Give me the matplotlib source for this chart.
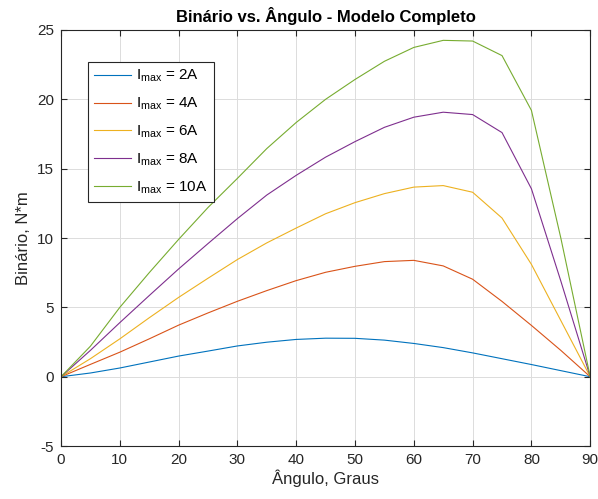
import numpy as np
import matplotlib.pyplot as plt

plt.rcParams['font.family'] = ['Liberation Sans', 'DejaVu Sans']
plt.rcParams['mathtext.default'] = 'regular'
plt.rcParams['mathtext.fontset'] = 'custom'
plt.rcParams['mathtext.rm'] = 'Liberation Sans'
plt.rcParams['axes.unicode_minus'] = False

# angulo em graus
angulo = np.arange(0, 91, 5)

# binario para cada corrente maxima
t_2A = [0, 0.27, 0.63, 1.06, 1.49, 1.85, 2.22, 2.49, 2.69, 2.78, 2.77, 2.64,
        2.40, 2.10, 1.72, 1.30, 0.88, 0.44, 0]
t_4A = [0, 0.89, 1.77, 2.73, 3.72, 4.60, 5.44, 6.21, 6.93, 7.53, 7.96, 8.30,
        8.39, 7.99, 7.03, 5.43, 3.70, 1.90, 0]
t_6A = [0, 1.30, 2.73, 4.25, 5.72, 7.10, 8.45, 9.65, 10.72, 11.75, 12.55, 13.20,
        13.67, 13.78, 13.30, 11.44, 8.10, 4.05, 0]
t_8A = [0, 1.90, 3.90, 5.85, 7.77, 9.60, 11.40, 13.10, 14.52, 15.83, 16.95, 17.98,
        18.71, 19.07, 18.90, 17.60, 13.55, 6.90, 0]
t_10A = [0, 2.20, 5.00, 7.50, 9.90, 12.20, 14.30, 16.45, 18.33, 20.00, 21.43, 22.74,
         23.74, 24.25, 24.20, 23.15, 19.20, 10.00, 0]

series = [t_2A, t_4A, t_6A, t_8A, t_10A]
labels = ['I$_{max}$ = 2A', 'I$_{max}$ = 4A', 'I$_{max}$ = 6A',
          'I$_{max}$ = 8A', 'I$_{max}$ = 10A']
cores = ['#0072BD', '#D95319', '#EDB120', '#7E2F8E', '#77AC30']

fig = plt.figure(figsize=(5.98, 4.99), dpi=100)
ax = fig.add_axes([0.102, 0.106, 0.885, 0.834])

for t, lab, c in zip(series, labels, cores):
    ax.plot(angulo, t, color=c, linewidth=0.8, label=lab)

ax.set_xlim(0, 90)
ax.set_ylim(-5, 25)
ax.set_xticks(np.arange(0, 91, 10))
ax.set_yticks(np.arange(-5, 26, 5))
ax.grid(True, color='#dcdcdc', linewidth=0.7)
ax.set_axisbelow(True)

for s in ax.spines.values():
    s.set_color('#262626')
    s.set_linewidth(0.8)
ax.tick_params(direction='in', top=True, right=True, labelsize=11,
               colors='#262626', length=4, width=0.8, pad=5)

ax.set_title('Binário vs. Ângulo - Modelo Completo', fontsize=12,
             fontweight='bold', pad=6)
ax.set_xlabel('Ângulo, Graus', fontsize=12, color='#262626', labelpad=2)
ax.set_ylabel('Binário, N*m', fontsize=12, color='#262626', labelpad=4)

leg = ax.legend(loc='upper left', bbox_to_anchor=(0.051, 0.923),
                borderaxespad=0, fontsize=11, fancybox=False,
                edgecolor='#262626', framealpha=1, handlelength=2.4,
                labelspacing=0.75, borderpad=0.4, handletextpad=0.35)
leg.get_frame().set_linewidth(0.8)

fig.savefig('out.png', dpi=100)
